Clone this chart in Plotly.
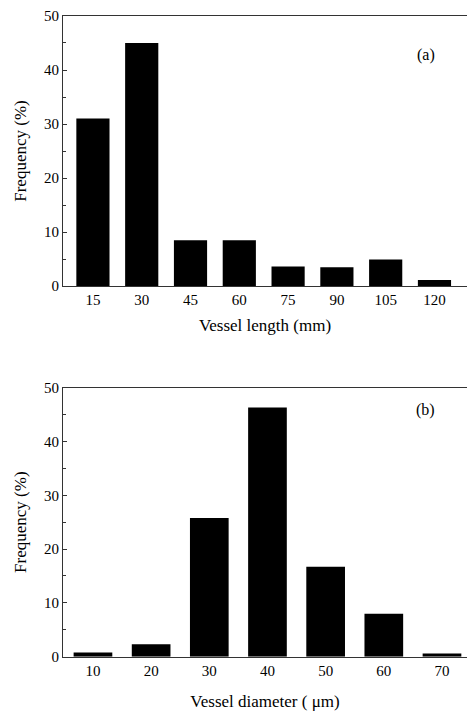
import plotly.graph_objects as go

length_mm = [15, 30, 45, 60, 75, 90, 105, 120]
length_freq = [31.0, 45.0, 8.5, 8.5, 3.6, 3.5, 4.9, 1.1]

diam_um = [10, 20, 30, 40, 50, 60, 70]
diam_freq = [0.8, 2.3, 25.8, 46.3, 16.7, 8.0, 0.6]

y_ticks = [0, 10, 20, 30, 40, 50]

FONT = "Liberation Serif"

fig = go.Figure()
fig.add_trace(go.Bar(x=length_mm, y=length_freq, marker=dict(color="black", line=dict(width=0)),
                     width=10.2, xaxis="x", yaxis="y", showlegend=False))
fig.add_trace(go.Bar(x=diam_um, y=diam_freq, marker=dict(color="black", line=dict(width=0)),
                     width=6.65, xaxis="x2", yaxis="y2", showlegend=False))

common_x = dict(showline=True, linecolor="#333", linewidth=1, mirror=True, ticks="",
                showgrid=False, zeroline=False, automargin=False,
                tickfont=dict(family=FONT, size=15, color="black"),
                title_font=dict(family=FONT, size=17, color="black"))
common_y = dict(showline=True, linecolor="#333", linewidth=1, ticks="inside", ticklen=4,
                tickcolor="#333", showgrid=False, zeroline=False, range=[0, 50], automargin=False,
                tickvals=y_ticks, minor=dict(ticks="inside", ticklen=3, dtick=5, tickcolor="#333"),
                tickfont=dict(family=FONT, size=15, color="black"),
                title_font=dict(family=FONT, size=17, color="black"), title_standoff=13)

fig.update_layout(
    width=467, height=711, margin=dict(l=63, r=0, t=0, b=0),
    paper_bgcolor="white", plot_bgcolor="white",
    xaxis=dict(domain=[0, 1], anchor="y", range=[5.8, 130], tickvals=length_mm,
               title_text="Vessel length (mm)", title_standoff=12, **common_x),
    yaxis=dict(domain=[0.5977, 0.9775], anchor="x", title_text="Frequency (%)", **common_y),
    xaxis2=dict(domain=[0, 1], anchor="y2", range=[4.85, 74.3], tickvals=diam_um,
                title_text="Vessel diameter ( \u03bcm)", title_standoff=19, **common_x),
    yaxis2=dict(domain=[0.0764, 0.4547], anchor="x2", title_text="Frequency (%)", **common_y),
    annotations=[
        dict(text="(a)", xref="paper", yref="paper", x=0.925, y=0.938, showarrow=False,
             font=dict(family=FONT, size=16, color="black")),
        dict(text="(b)", xref="paper", yref="paper", x=0.925, y=0.423, showarrow=False,
             font=dict(family=FONT, size=16, color="black")),
    ],
)

fig.write_html("out.html")
